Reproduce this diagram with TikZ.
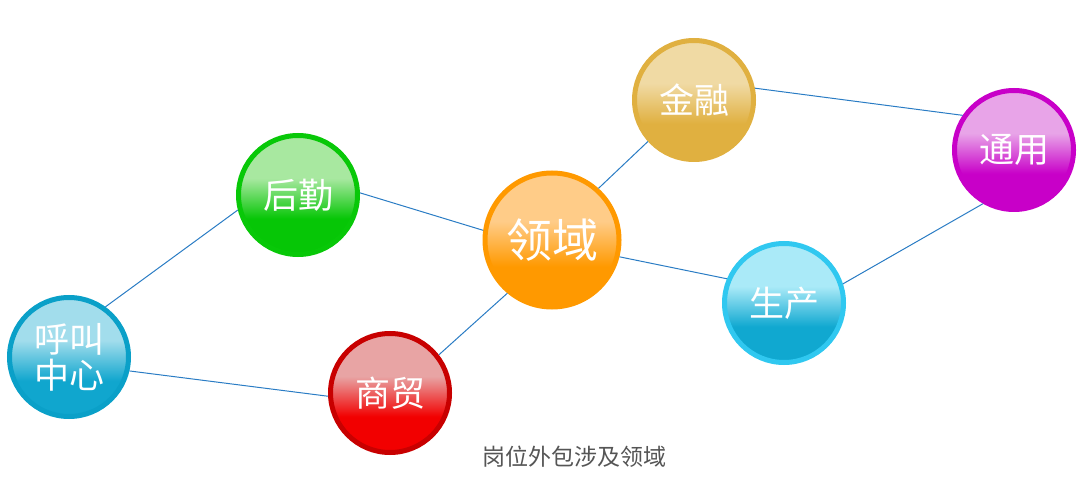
\documentclass[tikz,border=0pt]{standalone}
\usepackage{fontspec}
\newfontfamily\cjk{Noto Sans CJK SC}
\definecolor{linkblue}{HTML}{2A7CC4}
\definecolor{captiongray}{HTML}{555555}
\definecolor{callring}{HTML}{0AA0C8}
\definecolor{calltop}{HTML}{A2DDEC}
\definecolor{callbot}{HTML}{10A6CE}
\definecolor{logiring}{HTML}{08C808}
\definecolor{logitop}{HTML}{A8E8A0}
\definecolor{logibot}{HTML}{06C606}
\definecolor{tradering}{HTML}{C80000}
\definecolor{tradetop}{HTML}{E8A4A4}
\definecolor{tradebot}{HTML}{F20000}
\definecolor{fieldring}{HTML}{FF9900}
\definecolor{fieldtop}{HTML}{FFCC88}
\definecolor{fieldbot}{HTML}{FF9900}
\definecolor{finring}{HTML}{E0B040}
\definecolor{fintop}{HTML}{F0DAA4}
\definecolor{finbot}{HTML}{E0B040}
\definecolor{prodring}{HTML}{30C8F0}
\definecolor{prodtop}{HTML}{AAEAF8}
\definecolor{prodbot}{HTML}{10A8D0}
\definecolor{genring}{HTML}{C800C8}
\definecolor{gentop}{HTML}{E8A4E8}
\definecolor{genbot}{HTML}{C800C8}
\colorlet{balltop}{white}
\colorlet{ballbot}{black}
\pgfdeclareverticalshading[balltop,ballbot]{ballshade}{100bp}{color(0bp)=(ballbot); color(40bp)=(ballbot); color(57bp)=(balltop); color(100bp)=(balltop)}
\tikzset{
  ball/.style={circle, inner sep=0pt, minimum size=119pt, line width=5pt,
    /utils/exec={\colorlet{balltop}{#1top}\colorlet{ballbot}{#1bot}},
    draw=#1ring, shade, shading=ballshade, text=white,
    font=\cjk\fontsize{35}{36}\selectfont, align=center},
  link/.style={draw=linkblue, line width=1pt}
}
\begin{document}
\begin{tikzpicture}[x=1pt,y=-1pt]
	\useasboundingbox (0,0) rectangle (1092,494);
	% Kugeln
	\node[ball=call] (call) at (69,357) {呼叫\\中心};
	\node[ball=logi] (logi) at (298,195) {后勤};
	\node[ball=trade] (trade) at (390,393) {商贸};
	\node[ball=field, minimum size=134pt,
	      font=\cjk\fontsize{46}{48}\selectfont] (field) at (552,240) {领域};
	\node[ball=fin] (fin) at (694,100) {金融};
	\node[ball=prod] (prod) at (784,303) {生产};
	\node[ball=gen] (gen) at (1014,150) {通用};
	% Verbindungen
	\draw[link] (call.54) -- (logi.194);
	\draw[link] (call.-13) -- (trade.183);
	\draw[link] (logi.2) -- (field.172);
	\draw[link] (trade.38) -- (field.230);
	\draw[link] (field.48) -- (fin.222);
	\draw[link] (field.-14) -- (prod.157);
	\draw[link] (fin.11) -- (gen.146);
	\draw[link] (prod.18) -- (gen.240);
	\node[text=captiongray, font=\cjk\fontsize{23}{24}\selectfont] (caption) at (574,457) {岗位外包涉及领域};
\end{tikzpicture}
\end{document}
